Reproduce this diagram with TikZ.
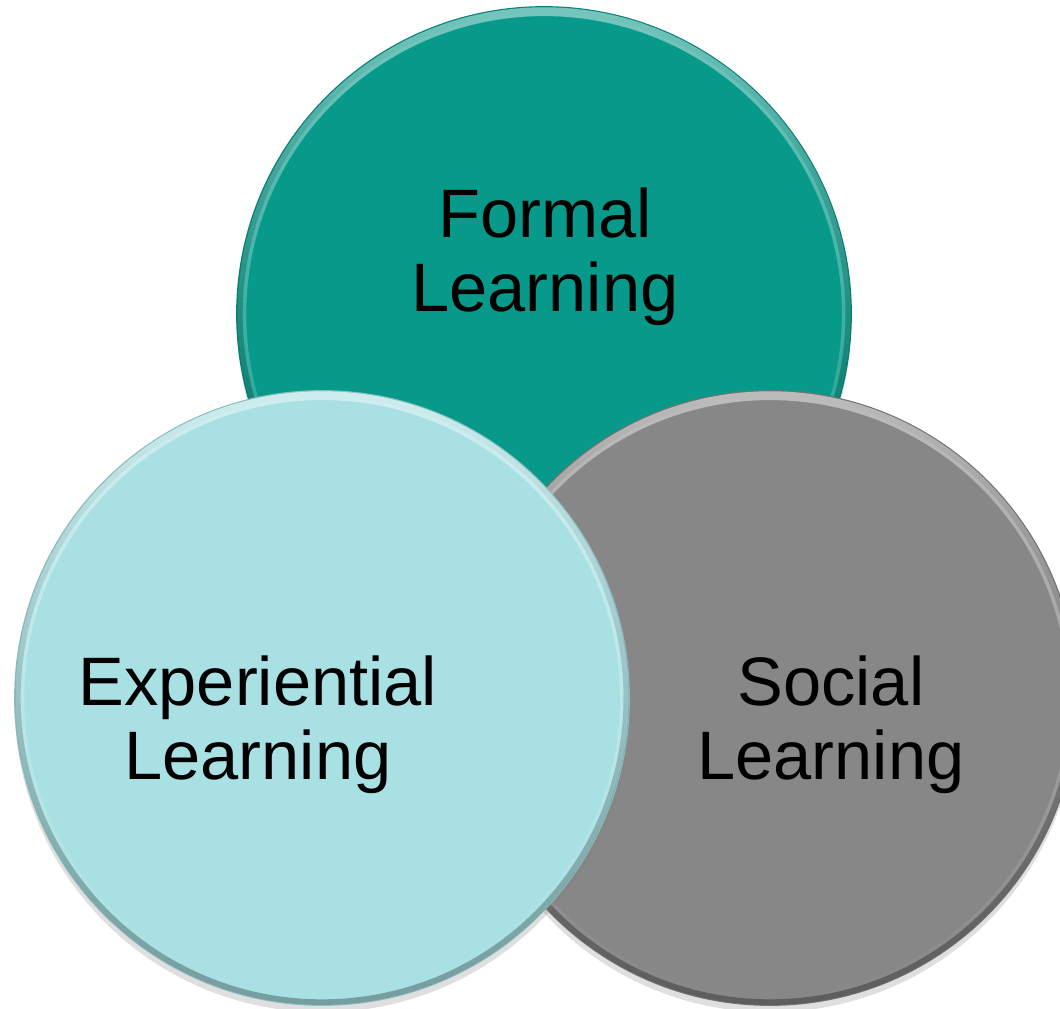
\documentclass[tikz,border=0pt]{standalone}
\usepackage{fontspec}
\setmainfont{Liberation Sans}
\usetikzlibrary{positioning,shadows,fadings}

\definecolor{formalteal}{RGB}{7,154,138}
\definecolor{experblue}{RGB}{168,224,227}
\definecolor{socialgray}{RGB}{135,135,135}

\begin{document}
\begin{tikzpicture}[x=0.01cm, y=-0.01cm,
	disc/.style={circle, minimum size=6.14cm, inner sep=0pt, draw=#1!85!black, line width=0.4pt, fill=#1, drop shadow={opacity=0.25, shadow xshift=0pt, shadow yshift=-2pt}},
	rimlight/.style={draw=#1!55!white, line width=2.5pt, path fading=south},
	rimdark/.style={draw=#1!70!black, line width=1.6pt, path fading=north},
	lbl/.style={align=center, font=\fontsize{19.5}{21}\selectfont}]
		\useasboundingbox (0,0) rectangle (1060,1008);
		% the three circles, back to front
		\node[disc=formalteal] (formal) at (544,314) {};
		\draw[rimlight=formalteal] (formal.center) circle[radius=3.02cm];
		\draw[rimdark=formalteal] (formal.center) circle[radius=3.04cm];
		\node[disc=socialgray] (social) at (770,698) {};
		\draw[rimlight=socialgray] (social.center) circle[radius=3.02cm];
		\draw[rimdark=socialgray] (social.center) circle[radius=3.04cm];
		\node[disc=experblue] (exper) at (322,698) {};
		\draw[rimlight=experblue] (exper.center) circle[radius=3.02cm];
		\draw[rimdark=experblue] (exper.center) circle[radius=3.04cm];
		% labels
		\node[lbl] (formaltext) at (545,257) {Formal\\Learning};
		\node[lbl] (expertext) at (258,725) {Experiential\\Learning};
		\node[lbl] (socialtext) at (831,725) {Social\\Learning};
	\end{tikzpicture}
\end{document}
